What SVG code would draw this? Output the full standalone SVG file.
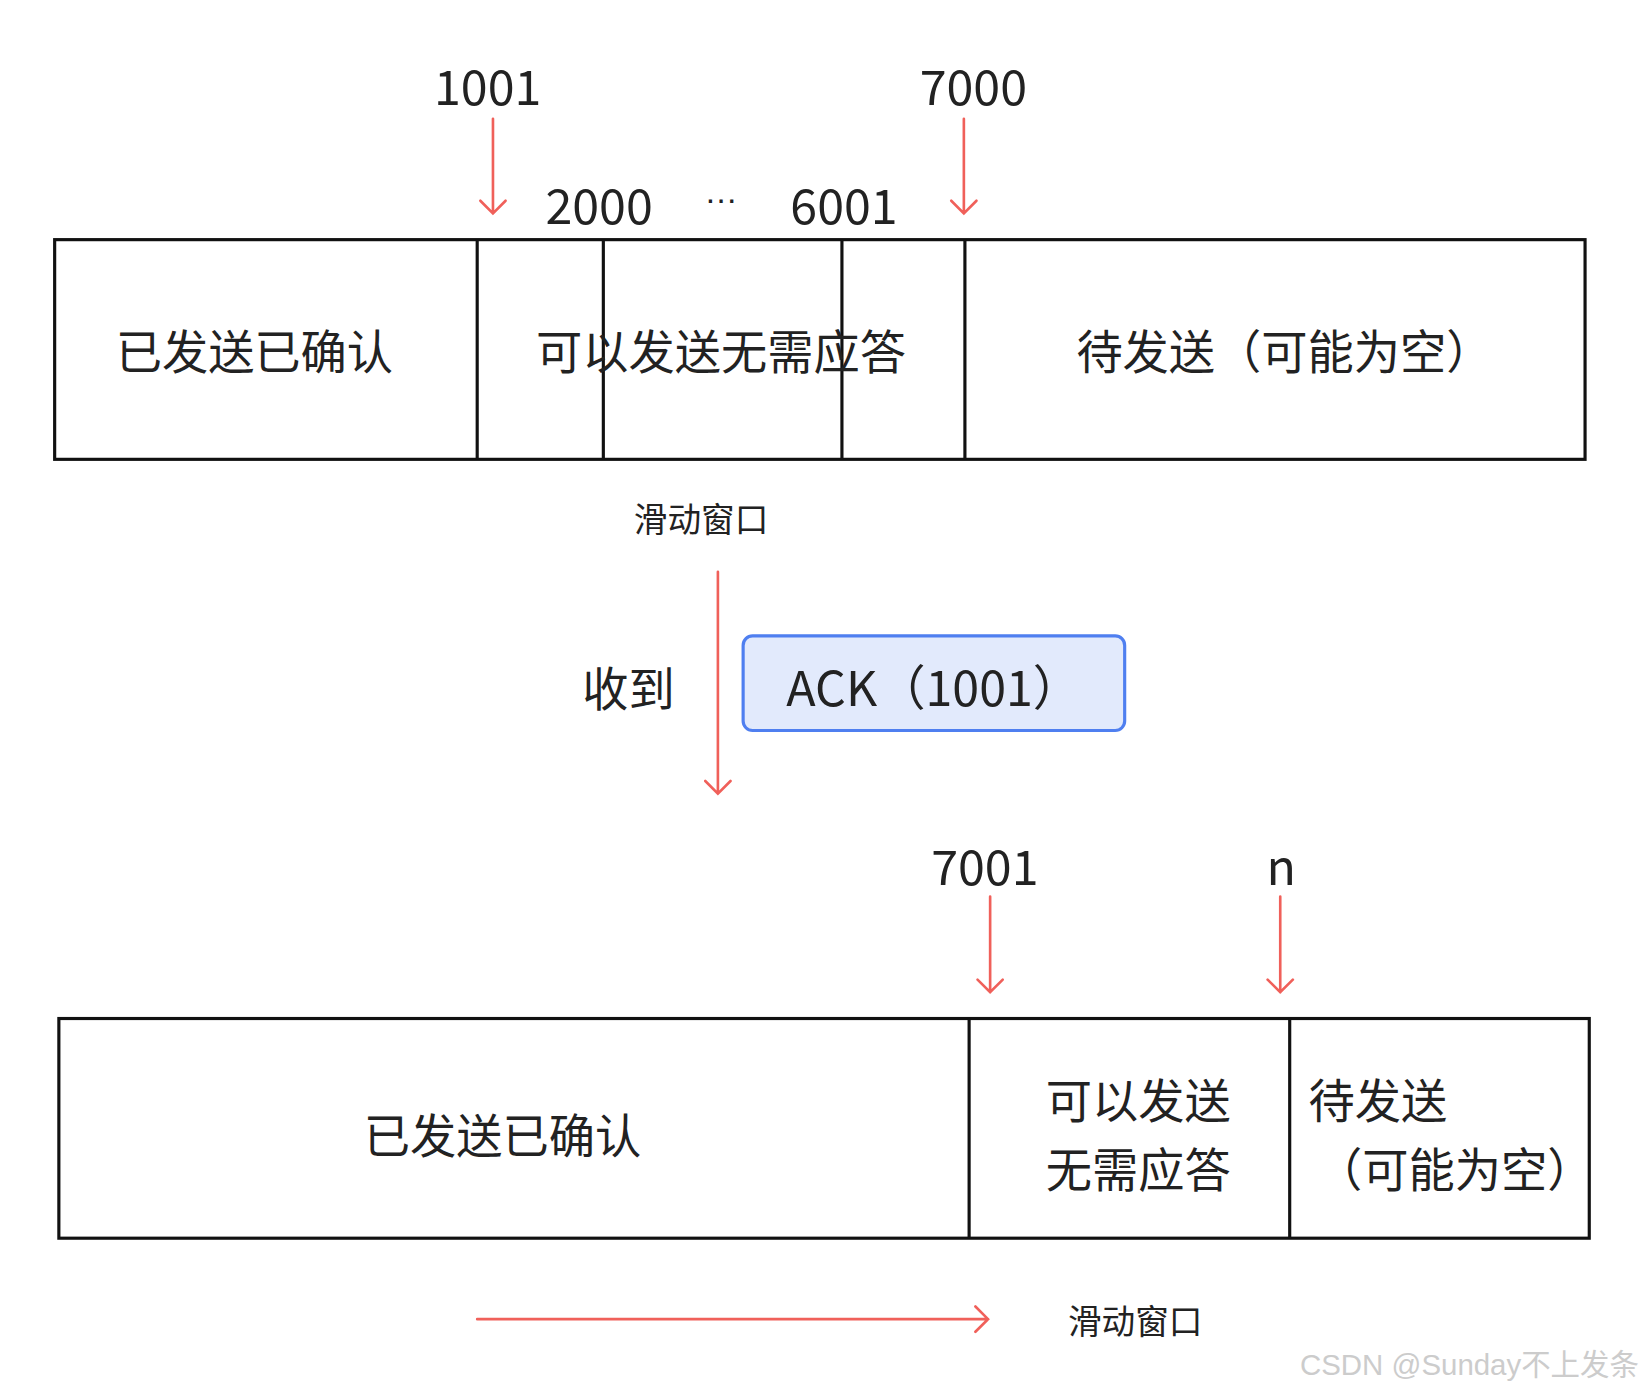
<svg xmlns="http://www.w3.org/2000/svg" width="1645" height="1390" viewBox="0 0 1645 1390">
<style>
text{font-family:"Noto Sans CJK SC","Noto Sans",sans-serif;fill:#222;dominant-baseline:central}
.b{fill:none;stroke:#111;stroke-width:3}
.a{fill:none;stroke:#f0605a;stroke-width:2.5;stroke-linecap:round}
.l{font-size:44px}.m{font-size:46px}.s{font-size:32px}
</style>
<rect width="1645" height="1390" fill="#fff"/>
<g transform="scale(1.0511)">
<g id="top-box">
<rect class="b" x="52" y="228" width="1456" height="209"/>
<line class="b" x1="454" y1="228" x2="454" y2="437"/>
<line class="b" x1="574" y1="228" x2="574" y2="437"/>
<line class="b" x1="801" y1="228" x2="801" y2="437"/>
<line class="b" x1="918" y1="228" x2="918" y2="437"/>
<text class="l" x="242" y="332" text-anchor="middle">已发送已确认</text>
<text class="l" x="686" y="332" text-anchor="middle">可以发送无需应答</text>
<text class="l" x="1222" y="332" text-anchor="middle">待发送（可能为空）</text>
</g>
<g id="top-labels">
<text class="m" x="464" y="80" text-anchor="middle">1001</text>
<text class="m" x="926" y="80" text-anchor="middle">7000</text>
<text class="m" x="570" y="193" text-anchor="middle">2000</text>
<text x="686" y="182" text-anchor="middle" style="font-family:'Liberation Sans',sans-serif;font-size:32px">…</text>
<text class="m" x="803" y="193" text-anchor="middle">6001</text>
<text class="s" x="667" y="492" text-anchor="middle">滑动窗口</text>
</g>
<g id="ack">
<rect x="707" y="605" width="363" height="90" rx="9" fill="#e2eafc" stroke="#4f7ff0" stroke-width="3"/>
<text class="m" x="748" y="652">ACK（1001）</text>
<text class="l" x="598" y="652" text-anchor="middle">收到</text>
</g>
<g id="bottom-labels">
<text class="m" x="937" y="822" text-anchor="middle">7001</text>
<text class="m" x="1219" y="822" text-anchor="middle">n</text>
<text class="s" x="1080" y="1255" text-anchor="middle">滑动窗口</text>
</g>
<g id="bottom-box">
<rect class="b" x="56" y="969" width="1456" height="209"/>
<line class="b" x1="922" y1="969" x2="922" y2="1178"/>
<line class="b" x1="1227" y1="969" x2="1227" y2="1178"/>
<text class="l" x="478" y="1077" text-anchor="middle">已发送已确认</text>
<text class="l" x="1083" y="1044" text-anchor="middle">可以发送</text>
<text class="l" x="1083" y="1110" text-anchor="middle">无需应答</text>
<text class="l" x="1245" y="1044">待发送</text>
<text class="l" x="1252" y="1110">（可能为空）</text>
</g>
<g id="connectors">
<path class="a" d="M469 113V203M457 191L469 203L481 191"/>
<path class="a" d="M917 113V203M905 191L917 203L929 191"/>
<path class="a" d="M683 544V755M671 743L683 755L695 743"/>
<path class="a" d="M942 853V944M930 932L942 944L954 932"/>
<path class="a" d="M1218 853V944M1206 932L1218 944L1230 932"/>
<path class="a" d="M454 1255H940M928 1243L940 1255L928 1267"/>
</g>
<text x="1398" y="1298" text-anchor="middle" style="font-family:'Liberation Sans','Noto Sans CJK SC',sans-serif;font-size:28px;fill:#ccc">CSDN @Sunday不上发条</text>
</g>
</svg>
